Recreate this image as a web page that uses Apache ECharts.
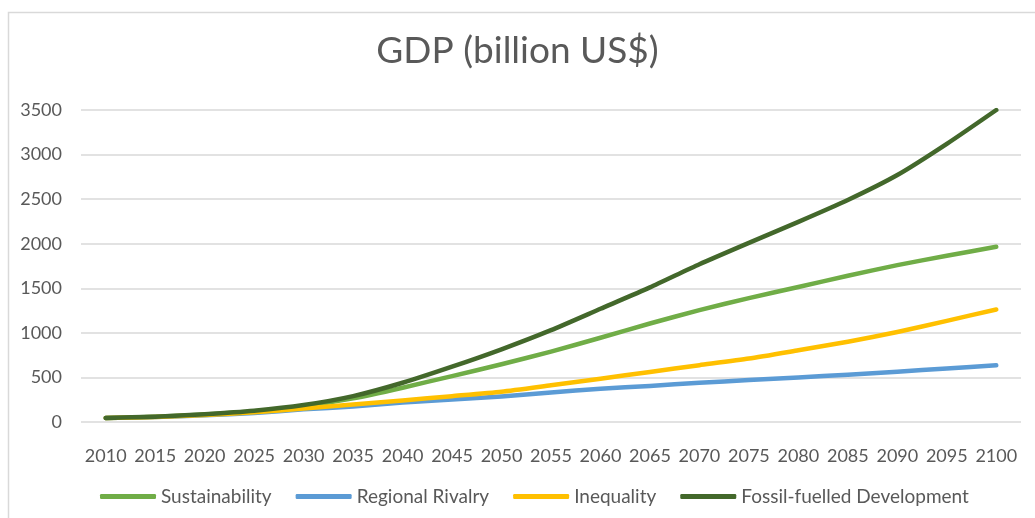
<!DOCTYPE html>
<html>
<head>
<meta charset="utf-8">
<script src="https://cdn.jsdelivr.net/npm/echarts@6/dist/echarts.min.js"></script>
<style>
  html, body { margin: 0; padding: 0; background: #ffffff; }
  #chart { width: 1035px; height: 518px; }
</style>
</head>
<body>
<div id="chart"></div>
<script>
// Years on the horizontal axis
const years = ['2010','2015','2020','2025','2030','2035','2040','2045','2050','2055',
               '2060','2065','2070','2075','2080','2085','2090','2095','2100'];

// GDP per scenario, billion US$
const sustainability = [45, 59, 85, 120, 178, 265, 385, 515, 648, 790,
                        945, 1105, 1255, 1390, 1515, 1640, 1760, 1865, 1965];
const regionalRivalry = [45, 56, 75, 102, 142, 175, 218, 252, 287, 332,
                         372, 405, 440, 470, 500, 530, 565, 600, 636];
const inequality = [45, 57, 78, 108, 152, 196, 242, 290, 340, 412,
                    485, 562, 637, 712, 805, 900, 1010, 1135, 1262];
const fossilFuelled = [45, 60, 88, 127, 190, 290, 440, 620, 815, 1030,
                       1270, 1510, 1770, 2010, 2245, 2490, 2770, 3120, 3500];

const yTicks = { min: 0, max: 3500, step: 500 };

const FONT = 'Lato, "Open Sans", sans-serif';
const TEXT = '#595959';

function lineSeries(name, data, color) {
  return {
    name: name,
    type: 'line',
    data: data,
    smooth: 0.2,
    showSymbol: false,
    symbol: 'none',
    lineStyle: { color: color, width: 4.5, cap: 'round', join: 'round' },
    itemStyle: { color: color },
    emphasis: { disabled: true }
  };
}

const chart = echarts.init(document.getElementById('chart'), null, { renderer: 'canvas' });

chart.setOption({
  backgroundColor: '#ffffff',
  animation: false,
  title: {
    text: 'GDP (billion US$)',
    left: 'center',
    top: 28,
    textStyle: { fontFamily: FONT, fontSize: 37, fontWeight: 'normal', color: TEXT }
  },
  graphic: [{
    type: 'rect',
    shape: { x: 8.5, y: 12.5, width: 1100, height: 600 },
    style: { fill: 'none', stroke: '#d9d9d9', lineWidth: 1.5 },
    silent: true,
    z: -1
  }],
  legend: {
    bottom: 7,
    left: 95,
    icon: 'roundRect',
    itemWidth: 56,
    itemHeight: 5,
    itemGap: 24,
    textStyle: { fontFamily: FONT, fontSize: 19, color: TEXT },
    data: ['Sustainability', 'Regional Rivalry', 'Inequality', 'Fossil-fuelled Development']
  },
  grid: { left: 81, right: 14, top: 110, bottom: 96, containLabel: false },
  xAxis: {
    type: 'category',
    data: years,
    boundaryGap: true,
    axisLine: { show: false },
    axisTick: { show: false },
    splitLine: { show: false },
    axisLabel: { color: TEXT, fontFamily: FONT, fontSize: 18, margin: 25, interval: 0 }
  },
  yAxis: {
    type: 'value',
    min: yTicks.min,
    max: yTicks.max,
    interval: yTicks.step,
    axisLine: { show: false },
    axisTick: { show: false },
    splitLine: { lineStyle: { color: '#d9d9d9', width: 1.5 } },
    axisLabel: {
      color: TEXT, fontFamily: FONT, fontSize: 18, margin: 19,
      formatter: function (v) { return String(v); }
    }
  },
  series: [
    lineSeries('Sustainability', sustainability, '#70ad47'),
    lineSeries('Regional Rivalry', regionalRivalry, '#5b9bd5'),
    lineSeries('Inequality', inequality, '#ffc000'),
    lineSeries('Fossil-fuelled Development', fossilFuelled, '#43682b')
  ]
});
</script>
</body>
</html>
